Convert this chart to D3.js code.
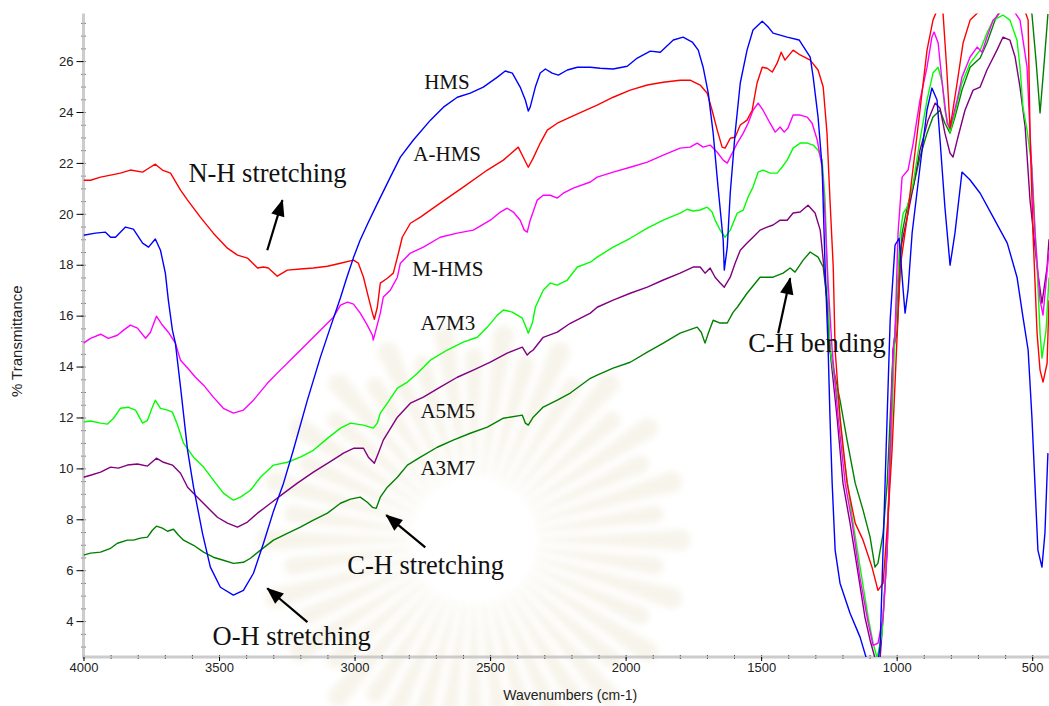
<!DOCTYPE html>
<html>
<head>
<meta charset="utf-8">
<script src="https://cdn.jsdelivr.net/npm/d3@7"></script>
<style>
  body { margin: 0; background: #ffffff; }
  svg { display: block; }
</style>
</head>
<body>
<svg id="chart" width="1049" height="706"></svg>
<script>
// FTIR spectra: [wavenumber (cm-1), % transmittance]
const hms = [[4000,19.16],[3956,19.24],[3919,19.28],[3900,19.08],[3882,19.08],[3864,19.28],[3845,19.48],[3816,19.40],[3782,18.85],[3760,18.69],[3735,19.01],[3716,18.57],[3698,17.67],[3687,16.61],[3672,15.43],[3661,14.92],[3642,13.19],[3616,10.71],[3594,9.26],[3561,7.45],[3532,6.12],[3495,5.33],[3447,5.02],[3410,5.21],[3373,5.88],[3336,7.06],[3299,8.32],[3262,9.42],[3226,10.71],[3174,12.68],[3126,14.37],[3089,15.55],[3052,16.7],[3030,17.45],[3004,18.28],[2980,18.95],[2950,19.65],[2916,20.40],[2868,21.44],[2831,22.23],[2783,22.90],[2720,23.68],[2672,24.19],[2621,24.58],[2573,24.74],[2525,24.98],[2473,25.37],[2444,25.61],[2418,25.53],[2389,24.98],[2370,24.47],[2359,24.04],[2352,24.19],[2333,24.98],[2315,25.53],[2296,25.69],[2271,25.53],[2248,25.45],[2215,25.65],[2178,25.76],[2130,25.76],[2094,25.72],[2046,25.69],[1994,25.80],[1957,26.12],[1909,26.39],[1872,26.35],[1824,26.83],[1788,26.94],[1754,26.75],[1732,26.43],[1714,25.76],[1695,24.74],[1677,23.17],[1659,21.05],[1640,18.97],[1636,17.79],[1625,18.69],[1614,20.81],[1596,23.17],[1577,25.14],[1552,26.43],[1530,27.22],[1496,27.57],[1474,27.34],[1456,27.10],[1404,26.94],[1360,26.83],[1319,26.16],[1308,25.37],[1290,23.80],[1275,21.83],[1264,17.91],[1253,14.76],[1246,12.01],[1238,9.42],[1227,6.79],[1209,5.49],[1172,4.31],[1135,3.37],[1113,2.58],[1085,1.2],[1061,3.02],[1039,10.71],[1024,15.82],[1006,18.77],[991,19.04],[976,17.00],[969,16.10],[958,17.00],[943,19.24],[914,21.83],[888,24.08],[870,24.94],[851,24.47],[840,22.90],[822,20.26],[803,17.98],[785,19.24],[759,21.64],[729,21.33],[692,20.81],[644,19.87],[592,18.85],[556,17.51],[534,15.94],[515,14.65],[501,12.01],[490,9.42],[479,6.79],[464,6.12],[453,7.45],[442,10.60]];

const aHms = [[4000,21.32],[3974,21.32],[3937,21.44],[3900,21.52],[3864,21.60],[3827,21.72],[3782,21.64],[3764,21.76],[3735,21.95],[3709,21.72],[3679,21.60],[3642,20.93],[3616,20.54],[3569,19.87],[3521,19.24],[3469,18.65],[3432,18.38],[3395,18.26],[3358,17.87],[3336,17.91],[3318,17.87],[3285,17.55],[3248,17.79],[3200,17.83],[3152,17.87],[3100,17.94],[3052,18.06],[3004,18.18],[2986,18.06],[2967,17.51],[2949,16.73],[2934,16.10],[2927,15.86],[2916,16.33],[2905,17.28],[2879,17.47],[2857,17.67],[2838,18.46],[2824,19.08],[2794,19.63],[2757,19.87],[2684,20.42],[2599,21.05],[2510,21.72],[2451,22.11],[2396,22.62],[2378,22.23],[2359,21.83],[2341,22.19],[2315,22.78],[2289,23.29],[2252,23.56],[2204,23.80],[2130,24.15],[2105,24.27],[2046,24.58],[1983,24.86],[1920,25.06],[1861,25.17],[1799,25.25],[1762,25.25],[1725,25.06],[1699,24.74],[1681,24.07],[1662,23.29],[1644,22.62],[1633,22.58],[1614,22.97],[1596,23.01],[1577,23.49],[1552,23.68],[1533,24.07],[1515,25.14],[1496,25.76],[1478,25.72],[1459,25.57],[1441,25.92],[1426,26.35],[1412,26.04],[1382,26.43],[1356,26.24],[1319,26.04],[1290,25.65],[1271,24.98],[1257,23.17],[1246,20.54],[1234,17.91],[1227,14.65],[1209,12.01],[1183,9.42],[1153,7.85],[1124,7.18],[1091,6.12],[1069,5.21],[1050,5.49],[1032,8.08],[1017,10.71],[1006,13.35],[987,17.91],[961,19.87],[939,21.83],[914,24.07],[888,26.43],[866,27.61],[851,28.0],[842,28.6],[829,27.89],[815,25.65],[803,23.37],[777,25.14],[755,26.71],[729,27.61],[702,27.89],[640,29.0],[560,29.0],[515,27.61],[508,23.17],[497,19.24],[482,15.31],[471,13.86],[460,13.39],[445,14.13],[438,16.6]];

const mHms = [[4000,14.92],[3974,15.11],[3937,15.27],[3908,15.11],[3875,15.23],[3852,15.43],[3827,15.63],[3801,15.51],[3771,15.11],[3753,15.35],[3731,15.98],[3709,15.63],[3687,15.35],[3661,14.92],[3642,14.25],[3616,13.94],[3587,13.58],[3557,13.27],[3521,12.80],[3484,12.36],[3447,12.17],[3410,12.29],[3373,12.68],[3321,13.35],[3274,13.86],[3226,14.37],[3174,14.92],[3126,15.43],[3078,15.94],[3052,16.41],[3026,16.53],[3004,16.45],[2979,16.10],[2953,15.63],[2934,15.23],[2931,15.04],[2905,16.10],[2894,16.73],[2868,17.00],[2842,17.51],[2831,18.06],[2794,18.46],[2746,18.69],[2684,19.08],[2621,19.24],[2562,19.36],[2499,19.75],[2462,20.07],[2437,20.22],[2414,20.07],[2389,19.75],[2374,19.36],[2363,19.28],[2352,19.75],[2326,20.54],[2304,20.73],[2278,20.73],[2252,20.62],[2230,20.81],[2193,21.01],[2130,21.25],[2105,21.44],[2046,21.64],[1983,21.83],[1920,22.03],[1861,22.31],[1799,22.58],[1762,22.62],[1736,22.78],[1714,22.62],[1688,22.70],[1662,22.42],[1640,22.11],[1625,21.99],[1607,22.38],[1588,22.78],[1566,23.17],[1548,23.56],[1530,24.07],[1511,24.35],[1493,24.07],[1467,23.56],[1448,23.21],[1430,23.41],[1415,23.21],[1401,23.37],[1382,23.88],[1356,23.88],[1330,23.80],[1312,23.56],[1293,22.90],[1275,21.83],[1264,19.87],[1253,17.28],[1238,14.65],[1216,12.01],[1190,9.42],[1164,7.85],[1135,5.67],[1105,3.92],[1087,3.05],[1069,3.13],[1050,4.15],[1035,6.79],[1024,10.71],[1013,14.65],[1006,15.31],[995,19.24],[980,21.44],[958,21.72],[939,22.78],[914,24.47],[888,25.76],[870,26.94],[862,27.14],[847,26.71],[832,25.14],[814,23.56],[803,23.37],[777,24.47],[759,25.37],[729,26.16],[703,26.55],[685,26.35],[667,26.94],[644,27.61],[619,27.89],[582,28.2],[545,27.61],[519,25.76],[508,23.17],[490,19.24],[471,16.61],[460,16.02],[438,18.57]];

const a7m3 = [[4000,11.82],[3974,11.86],[3937,11.78],[3911,11.74],[3889,11.97],[3864,12.36],[3834,12.40],[3808,12.29],[3782,11.78],[3764,11.89],[3746,12.40],[3735,12.68],[3716,12.36],[3690,12.29],[3672,12.21],[3653,11.70],[3631,10.99],[3594,10.44],[3557,10.05],[3521,9.54],[3484,9.03],[3447,8.75],[3421,8.87],[3384,9.14],[3347,9.65],[3299,10.13],[3248,10.24],[3200,10.44],[3152,10.71],[3100,11.18],[3052,11.58],[3015,11.78],[2967,11.70],[2931,11.58],[2916,11.78],[2905,12.17],[2879,12.56],[2842,13.15],[2805,13.39],[2768,13.74],[2720,14.25],[2658,14.65],[2599,14.96],[2547,15.15],[2510,15.55],[2473,16.02],[2451,16.22],[2418,16.14],[2381,15.90],[2363,15.43],[2359,15.31],[2344,15.71],[2333,16.33],[2304,17.00],[2278,17.28],[2252,17.20],[2215,17.40],[2178,17.91],[2130,18.10],[2105,18.30],[2046,18.69],[1983,19.04],[1920,19.44],[1861,19.75],[1799,20.03],[1773,20.18],[1751,20.11],[1725,20.15],[1699,20.26],[1681,20.07],[1670,19.75],[1651,19.36],[1633,19.08],[1614,19.36],[1588,20.03],[1566,20.15],[1548,20.66],[1530,21.05],[1511,21.64],[1493,21.72],[1467,21.60],[1441,21.60],[1423,21.83],[1404,22.11],[1382,22.58],[1356,22.78],[1330,22.78],[1308,22.70],[1290,22.50],[1275,22.11],[1264,20.54],[1257,17.91],[1246,14.65],[1216,12.68],[1198,10.71],[1164,8.08],[1135,6.12],[1105,4.15],[1087,3.13],[1072,2.55],[1054,3.53],[1043,5.49],[1032,8.08],[1021,10.71],[1013,13.35],[1006,15.31],[987,19.24],[976,20.03],[961,20.26],[939,21.21],[914,22.90],[888,24.47],[866,25.53],[847,25.76],[832,25.14],[822,24.07],[803,23.21],[785,23.96],[759,25.14],[729,25.92],[692,26.43],[667,27.10],[644,27.61],[608,27.81],[582,27.61],[556,26.82],[545,25.76],[534,24.19],[519,23.29],[501,21.83],[482,17.91],[471,15.31],[464,14.33],[449,15.4],[438,17.5]];

const a5m5 = [[4000,9.65],[3974,9.73],[3937,9.85],[3900,10.05],[3871,10.01],[3838,10.13],[3801,10.17],[3764,10.09],[3731,10.40],[3705,10.24],[3672,10.13],[3642,9.81],[3616,9.26],[3580,8.87],[3543,8.47],[3506,8.08],[3469,7.85],[3432,7.69],[3395,7.89],[3358,8.24],[3310,8.63],[3262,9.02],[3211,9.42],[3152,9.85],[3100,10.20],[3052,10.52],[3041,10.60],[3004,10.79],[2967,10.79],[2949,10.44],[2927,10.20],[2912,10.60],[2894,11.11],[2842,12.01],[2794,12.56],[2746,12.80],[2684,13.19],[2621,13.58],[2562,13.86],[2499,14.17],[2437,14.53],[2381,14.76],[2363,14.45],[2352,14.57],[2341,14.65],[2304,15.15],[2252,15.35],[2204,15.70],[2130,16.10],[2105,16.33],[2046,16.61],[1983,16.88],[1920,17.12],[1861,17.40],[1799,17.67],[1751,17.91],[1725,17.91],[1707,17.67],[1688,17.87],[1670,17.51],[1651,17.28],[1636,17.12],[1614,17.51],[1596,18.06],[1577,18.57],[1552,18.85],[1530,19.08],[1504,19.36],[1478,19.48],[1456,19.56],[1430,19.75],[1404,19.75],[1382,20.03],[1356,20.07],[1327,20.34],[1301,20.03],[1282,19.36],[1271,18.18],[1257,16.61],[1246,14.65],[1220,12.01],[1198,9.42],[1172,7.85],[1146,6.12],[1117,4.15],[1098,3.25],[1080,2.55],[1061,2.55],[1050,4.15],[1035,6.79],[1024,10.71],[1013,14.65],[1006,15.31],[987,18.57],[961,19.87],[939,21.05],[914,22.50],[884,23.68],[858,24.35],[840,24.15],[822,23.17],[803,22.38],[792,22.23],[774,23.01],[748,24.07],[718,24.86],[692,24.98],[667,25.65],[630,26.43],[608,26.94],[582,26.82],[563,26.16],[545,24.98],[526,23.41],[508,20.54],[482,17.91],[464,16.49],[445,17.91],[438,19.0]];

const a3m7 = [[4000,6.59],[3974,6.67],[3937,6.71],[3900,6.86],[3875,7.06],[3838,7.18],[3816,7.18],[3790,7.26],[3764,7.30],[3746,7.57],[3731,7.73],[3709,7.65],[3690,7.53],[3668,7.61],[3650,7.38],[3631,7.18],[3594,6.98],[3557,6.71],[3521,6.51],[3484,6.39],[3447,6.27],[3410,6.31],[3384,6.47],[3347,6.79],[3299,7.18],[3248,7.45],[3200,7.69],[3152,7.97],[3100,8.24],[3052,8.63],[3015,8.79],[2979,8.87],[2953,8.67],[2934,8.47],[2920,8.43],[2905,8.87],[2879,9.26],[2842,9.65],[2805,10.13],[2757,10.44],[2695,10.83],[2636,11.11],[2573,11.38],[2510,11.62],[2451,11.97],[2381,12.09],[2370,11.78],[2359,11.70],[2341,12.01],[2304,12.41],[2252,12.68],[2204,12.96],[2130,13.54],[2105,13.66],[2046,13.94],[1983,14.17],[1920,14.57],[1861,14.92],[1799,15.31],[1736,15.55],[1721,15.35],[1707,14.92],[1695,15.31],[1677,15.82],[1651,15.71],[1625,15.71],[1603,16.14],[1588,16.33],[1552,16.88],[1504,17.51],[1456,17.51],[1419,17.67],[1393,17.87],[1375,17.71],[1345,18.18],[1319,18.50],[1290,18.30],[1271,17.91],[1257,16.61],[1246,14.65],[1234,13.98],[1209,12.68],[1183,11.11],[1153,9.42],[1124,8.36],[1098,7.30],[1080,6.12],[1069,6.28],[1050,7.45],[1035,9.42],[1024,12.01],[1013,14.65],[999,15.31],[980,19.24],[961,20.26],[939,21.05],[914,22.23],[888,23.17],[866,23.80],[840,24.07],[822,23.56],[803,23.17],[785,23.80],[759,24.86],[729,25.76],[692,26.12],[667,26.71],[637,27.61],[619,28.0],[560,29.0],[501,27.85],[486,26.04],[471,23.96],[455,26.04],[442,27.85]];

const series = [
  { name: "A3M7",  color: "#008000", values: a3m7 },
  { name: "A5M5",  color: "#800080", values: a5m5 },
  { name: "A7M3",  color: "#00ff00", values: a7m3 },
  { name: "M-HMS", color: "#ff00ff", values: mHms },
  { name: "A-HMS", color: "#ff0000", values: aHms },
  { name: "HMS",   color: "#0000ff", values: hms }
];

const xTicks = [4000, 3500, 3000, 2500, 2000, 1500, 1000, 500];
const yTicks = [4, 6, 8, 10, 12, 14, 16, 18, 20, 22, 24, 26];

// Curve labels placed in data coordinates [wavenumber, %T]
const curveLabels = [
  { text: "HMS",   at: [2743, 24.90] },
  { text: "A-HMS", at: [2783, 22.07] },
  { text: "M-HMS", at: [2787, 17.55] },
  { text: "A7M3",  at: [2757, 15.43] },
  { text: "A5M5",  at: [2757, 11.97] },
  { text: "A3M7",  at: [2757, 9.73] }
];

// Band assignments with arrows (tail -> head) in data coordinates
const bands = [
  { text: "N-H stretching", at: [3613, 21.25], from: [3322, 18.57], to: [3266, 20.54] },
  { text: "C-H stretching", at: [3027, 5.84],  from: [2739, 6.90],  to: [2883, 8.16] },
  { text: "O-H stretching", at: [3524, 3.05],  from: [3174, 3.96],  to: [3322, 5.29] },
  { text: "C-H bending",    at: [1548, 14.57], from: [1437, 15.31], to: [1393, 17.47] }
];

const svg = d3.select("#chart");

const x = d3.scaleLinear().domain([4000, 438]).range([83.5, 1049]);
const y = d3.scaleLinear().domain([2.59, 27.87]).range([657, 13.5]);

const plotLeft = x.range()[0], plotRight = x.range()[1];
const plotTop = y.range()[1], plotBottom = y.range()[0];

const defs = svg.append("defs");
defs.append("clipPath").attr("id", "plot-clip")
  .append("rect")
  .attr("x", plotLeft).attr("y", plotTop)
  .attr("width", plotRight - plotLeft).attr("height", plotBottom - plotTop);

defs.append("filter").attr("id", "soft")
  .attr("x", "-20%").attr("y", "-20%").attr("width", "140%").attr("height", "140%")
  .append("feGaussianBlur").attr("stdDeviation", 3);

defs.append("marker")
  .attr("id", "arrowhead")
  .attr("viewBox", "-18 -8 20 16")
  .attr("refX", 0).attr("refY", 0)
  .attr("markerWidth", 20).attr("markerHeight", 16)
  .attr("markerUnits", "userSpaceOnUse")
  .attr("orient", "auto")
  .append("path")
  .attr("d", "M1,0 L-16,-6.8 L-16,6.8 Z")
  .attr("fill", "#000");

// very faint sunburst emblem in the background
const emblem = svg.append("g")
  .attr("transform", "translate(474,540)")
  .attr("filter", "url(#soft)")
  .attr("opacity", 0.22);
const rayCount = 44;
emblem.selectAll("path.ray")
  .data(d3.range(rayCount))
  .join("path")
  .attr("class", "ray")
  .attr("d", i => {
    const a = (i / rayCount) * 2 * Math.PI;
    const r0 = 64, r1 = (i % 2 === 0) ? 210 : 185;
    const w0 = 0.022, w1 = 0.05;
    const p = (r, t) => [r * Math.cos(t), r * Math.sin(t)];
    const [ax, ay] = p(r0, a - w0), [bx, by] = p(r1, a - w1);
    const [cx, cy] = p(r1, a + w1), [dx, dy] = p(r0, a + w0);
    return `M${ax},${ay}L${bx},${by}Q${(r1 + 14) * Math.cos(a)},${(r1 + 14) * Math.sin(a)} ${cx},${cy}L${dx},${dy}Z`;
  })
  .attr("fill", "#d9cfa6");

// axes
const axisColor = "#c4c4c4";

const xMinor = d3.axisBottom(x).tickValues(d3.range(500, 4001, 100)).tickSize(4).tickFormat("");
svg.append("g").attr("transform", `translate(0,${plotBottom - 2})`).call(xMinor)
  .call(g => g.select(".domain").remove())
  .call(g => g.selectAll("line").attr("stroke", "#000"));

const yMinor = d3.axisLeft(y).tickValues(d3.range(3, 27.9, 0.5)).tickSize(4).tickFormat("");
svg.append("g").attr("transform", `translate(${plotLeft + 2},0)`).call(yMinor)
  .call(g => g.select(".domain").remove())
  .call(g => g.selectAll("line").attr("stroke", "#000"));

svg.append("line")
  .attr("x1", plotLeft).attr("x2", plotRight)
  .attr("y1", plotBottom).attr("y2", plotBottom)
  .attr("stroke", axisColor).attr("stroke-width", 3).attr("opacity", 0.85);
svg.append("line")
  .attr("x1", plotLeft).attr("x2", plotLeft)
  .attr("y1", plotTop).attr("y2", plotBottom + 1.5)
  .attr("stroke", axisColor).attr("stroke-width", 3).attr("opacity", 0.85);

const xAxis = d3.axisBottom(x).tickValues(xTicks).tickSize(4).tickPadding(2).tickFormat(d3.format("d"));
svg.append("g").attr("transform", `translate(0,${plotBottom})`).call(xAxis)
  .call(g => g.select(".domain").remove())
  .call(g => g.selectAll("line").attr("stroke", "#000"))
  .call(g => g.selectAll("text")
    .attr("font-family", "Liberation Sans, Arial, sans-serif")
    .attr("font-size", 13).attr("fill", "#222"));

const yAxis = d3.axisLeft(y).tickValues(yTicks).tickSize(7).tickPadding(3).tickFormat(d3.format("d"));
svg.append("g").attr("transform", `translate(${plotLeft},0)`).call(yAxis)
  .call(g => g.select(".domain").remove())
  .call(g => g.selectAll("line").attr("stroke", "#000"))
  .call(g => g.selectAll("text")
    .attr("font-family", "Liberation Sans, Arial, sans-serif")
    .attr("font-size", 13).attr("fill", "#222"));

svg.append("text")
  .attr("x", (plotLeft + plotRight) / 2 + 4).attr("y", 700)
  .attr("text-anchor", "middle")
  .attr("font-family", "Liberation Sans, Arial, sans-serif")
  .attr("font-size", 14).attr("fill", "#222")
  .text("Wavenumbers (cm-1)");

svg.append("text")
  .attr("transform", `translate(22,${(plotTop + plotBottom) / 2 + 6}) rotate(-90)`)
  .attr("text-anchor", "middle")
  .attr("font-family", "Liberation Sans, Arial, sans-serif")
  .attr("font-size", 15).attr("fill", "#222")
  .text("% Transmittance");

// spectra
const line = d3.line()
  .x(d => x(d[0]))
  .y(d => y(d[1]));

svg.append("g").attr("clip-path", "url(#plot-clip)")
  .selectAll("path")
  .data(series)
  .join("path")
  .attr("d", d => line(d.values))
  .attr("fill", "none")
  .attr("stroke", d => d.color)
  .attr("stroke-width", 1.4)
  .attr("stroke-linejoin", "round");

// curve labels
svg.append("g").selectAll("text")
  .data(curveLabels)
  .join("text")
  .attr("x", d => x(d.at[0])).attr("y", d => y(d.at[1]))
  .attr("font-family", "Liberation Serif, Times New Roman, serif")
  .attr("font-size", 21).attr("fill", "#111")
  .text(d => d.text);

// band annotations
const bandG = svg.append("g");
bandG.selectAll("text")
  .data(bands)
  .join("text")
  .attr("x", d => x(d.at[0])).attr("y", d => y(d.at[1]))
  .attr("font-family", "Liberation Serif, Times New Roman, serif")
  .attr("font-size", 26.5).attr("fill", "#111")
  .text(d => d.text);
bandG.selectAll("line")
  .data(bands)
  .join("line")
  .attr("x1", d => x(d.from[0])).attr("y1", d => y(d.from[1]))
  .attr("x2", d => x(d.to[0])).attr("y2", d => y(d.to[1]))
  .attr("stroke", "#000").attr("stroke-width", 2.2)
  .attr("marker-end", "url(#arrowhead)");
</script>
</body>
</html>
